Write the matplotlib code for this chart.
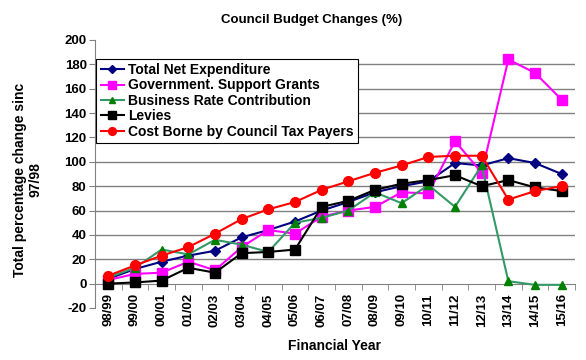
import numpy as np
import matplotlib
matplotlib.use("Agg")
import matplotlib.pyplot as plt

plt.rcParams['font.family'] = ['Liberation Sans', 'DejaVu Sans']
plt.rcParams['font.weight'] = 'bold'
plt.rcParams['axes.unicode_minus'] = False

years = ['98/99', '99/00', '00/01', '01/02', '02/03', '03/04', '04/05', '05/06', '06/07',
         '07/08', '08/09', '09/10', '10/11', '11/12', '12/13', '13/14', '14/15', '15/16']

net_expenditure = [4, 12, 18, 23, 27, 38, 44, 51, 60, 67, 75, 80, 84, 99, 97, 103, 99, 90]
gov_grants = [3, 8, 9, 18, 11, 30, 44, 41, 55, 60, 63, 75, 74, 117, 91, 184, 173, 151]
business_rate = [5, 13, 28, 24, 36, 32, 26, 50, 54, 60, 75, 66, 81, 63, 97, 2, -1, -1]
levies = [0, 1, 2.5, 13, 9, 25, 26, 28, 63, 68, 77, 82, 85, 89, 80, 85, 79, 76]
council_tax = [6.5, 15, 23, 30, 41, 53, 61, 67, 77, 84, 91, 97, 104, 105, 105, 69, 76, 80]

fig = plt.figure(figsize=(5.86, 3.6), dpi=100)
ax = fig.add_axes([95 / 586, 1 - 308 / 360, 480 / 586, 268 / 360])

x = np.arange(len(years))
series = [
    ('Total Net Expenditure', net_expenditure, '#000080', '#000080', 'D', 5),
    ('Government. Support Grants', gov_grants, '#FF00FF', '#FF00FF', 's', 7),
    ('Business Rate Contribution', business_rate, '#339966', '#008000', '^', 6),
    ('Levies', levies, '#000000', '#000000', 's', 7),
    ('Cost Borne by Council Tax Payers', council_tax, '#FF0000', '#FF0000', 'o', 7),
]
for label, vals, lc, mc, mk, ms in series:
    ax.plot(x, vals, color=lc, lw=1.5, marker=mk, ms=ms, mfc=mc, mec=mc, label=label)

ax.set_xlim(-0.5, len(years) - 0.5)
ax.set_ylim(-20, 200)
ax.set_yticks(np.arange(-20, 201, 20))
for v in range(20, 200, 20):
    ax.axhline(v, color='#808080', lw=1, zorder=0)

for s in ['top', 'right']:
    ax.spines[s].set_visible(False)
ax.spines['left'].set_color('#808080')
ax.spines['bottom'].set_position(('data', 0))
ax.spines['bottom'].set_color('#808080')
ax.spines['bottom'].set_zorder(0)
ax.tick_params(axis='y', length=4, color='#808080', labelsize=9.5, pad=2)

ax.set_xticks(x)
ax.set_xticklabels(years, rotation=90, fontsize=9.5)
ax.set_xticks(np.arange(-0.5, len(years), 1), minor=True)
ax.tick_params(axis='x', which='major', length=0, pad=7)
ax.tick_params(axis='x', which='minor', length=4, color='#808080', direction='out')

fig.text(312 / 586, 1 - 20 / 360, 'Council Budget Changes (%)', ha='center', va='center',
         fontsize=9.5, fontweight='bold')
fig.text(335 / 586, 1 - 346 / 360, 'Financial Year', ha='center', va='center',
         fontsize=10, fontweight='bold')
fig.text(28 / 586, 1 - 180 / 360, 'Total percentage change sinc\n97/98', ha='center', va='center',
         rotation=90, fontsize=10, fontweight='bold', linespacing=1.1)

leg = ax.legend(loc='upper left', bbox_to_anchor=(0.0, 0.935), fontsize=10, frameon=True,
                fancybox=False, borderpad=0.3, labelspacing=0.1, handlelength=1.7,
                handletextpad=0.3, borderaxespad=0.1, markerscale=0.8)
leg.get_frame().set_edgecolor('#000000')
leg.get_frame().set_linewidth(0.8)
leg.get_frame().set_alpha(1)

fig.savefig('out.png', dpi=100)
